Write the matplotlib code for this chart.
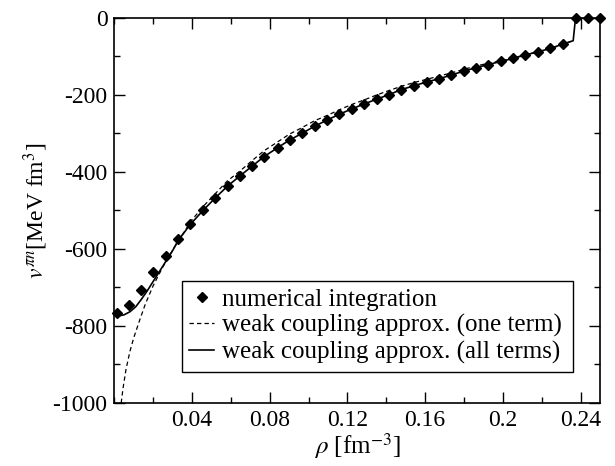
import matplotlib
matplotlib.use("Agg")
import matplotlib.pyplot as plt
from matplotlib.ticker import MultipleLocator, FixedLocator

plt.rcParams["font.family"] = ["Liberation Serif", "DejaVu Serif"]
plt.rcParams["mathtext.fontset"] = "stix"
plt.rcParams["axes.unicode_minus"] = False

# numerical integration (diamonds)
num_rho = [0.0012, 0.0075, 0.0139, 0.0201, 0.0264, 0.0328, 0.0391, 0.0458,
           0.0520, 0.0584, 0.0647, 0.0711, 0.0771, 0.0840, 0.0902, 0.0965,
           0.1031, 0.1096, 0.1158, 0.1223, 0.1287, 0.1350, 0.1414, 0.1477,
           0.1543, 0.1608, 0.1672, 0.1735, 0.1799, 0.1862, 0.1924, 0.1989,
           0.2053, 0.2116, 0.2180, 0.2245, 0.2307, 0.2378, 0.2438, 0.2500]
num_v = [-767, -745, -706, -660, -618, -575, -536, -499,
         -467, -436, -410, -384, -360, -337, -317, -300,
         -281, -265, -250, -236, -223, -211, -199, -186,
         -176, -166, -158, -148, -138, -129, -121, -113,
         -105, -96, -88, -79, -68, 0, 0, 0]

# weak coupling approx., one term (dashed)
one_rho = [0.0035, 0.0045, 0.006, 0.008, 0.010, 0.013, 0.016, 0.020, 0.025,
           0.030, 0.035, 0.040, 0.046, 0.052, 0.058, 0.065, 0.071, 0.077,
           0.084, 0.090, 0.0965, 0.103, 0.110, 0.116, 0.122, 0.129, 0.135,
           0.141, 0.148, 0.154, 0.161, 0.167, 0.174, 0.180, 0.186, 0.192,
           0.199, 0.205, 0.212, 0.218, 0.225, 0.231, 0.2362]
one_v = [-1000, -960, -912, -866, -830, -785, -742, -695, -646,
         -603, -563, -524, -488, -456, -424, -396, -370, -345,
         -322, -302, -285, -267, -252, -238, -225, -212, -200,
         -189, -177, -168, -159, -151, -142, -133, -125, -118,
         -111, -104, -95, -88, -79, -68, -59]

# weak coupling approx., all terms (solid)
all_rho = [0.0003, 0.0015, 0.003, 0.005, 0.008, 0.011, 0.014, 0.017, 0.020,
           0.0235, 0.027, 0.030, 0.0328, 0.0391, 0.0458,
           0.0520, 0.0584, 0.0647, 0.0711, 0.0771, 0.0840, 0.0902, 0.0965,
           0.1031, 0.1096, 0.1158, 0.1223, 0.1287, 0.1350, 0.1414, 0.1477,
           0.1543, 0.1608, 0.1672, 0.1735, 0.1799, 0.1862, 0.1924, 0.1989,
           0.2053, 0.2116, 0.2180, 0.2245, 0.2307, 0.2362, 0.2374, 0.2500]
all_v = [-767, -771, -773, -771, -763, -750, -730, -708, -684,
         -656, -628, -604, -578, -536, -499,
         -467, -436, -410, -384, -360, -337, -317, -300,
         -281, -265, -250, -236, -223, -211, -199, -186,
         -176, -166, -158, -148, -138, -129, -121, -113,
         -105, -96, -88, -79, -68, -59, 0, 0]

x_ticks = [0.04, 0.08, 0.12, 0.16, 0.20, 0.24]
x_labels = ["0.04", "0.08", "0.12", "0.16", "0.2", "0.24"]

fig = plt.figure(figsize=(6.15, 4.66), dpi=100)
ax = fig.add_axes([0.186, 0.1352, 0.7896, 0.8262])

ax.plot(all_rho, all_v, "-", color="black", lw=1.2,
        label="weak coupling approx. (all terms)", zorder=2)
ax.plot(one_rho, one_v, "--", color="black", lw=0.9, dashes=(3.5, 2.5),
        label="weak coupling approx. (one term)", zorder=2)
ax.plot(num_rho, num_v, "D", color="black", ms=5.5, ls="none",
        label="numerical integration", clip_on=False, zorder=3)

ax.set_xlim(0, 0.25)
ax.set_ylim(-1000, 0)
ax.xaxis.set_major_locator(FixedLocator(x_ticks))
ax.set_xticklabels(x_labels)
ax.xaxis.set_minor_locator(MultipleLocator(0.02))
ax.yaxis.set_major_locator(MultipleLocator(200))
ax.yaxis.set_minor_locator(MultipleLocator(100))
ax.tick_params(which="both", direction="in", top=True, right=True,
               labelsize=17, width=1)
ax.tick_params(which="major", length=8, pad=5)
ax.tick_params(which="minor", length=4.5)
for s in ax.spines.values():
    s.set_linewidth(1.2)

ax.set_xlabel(r"$\rho$ [fm$^{-3}$]", fontsize=18, labelpad=0)
ax.set_ylabel(r"$v^{\pi n}$[MeV fm$^{3}$]", fontsize=17, labelpad=2)

h, l = ax.get_legend_handles_labels()
order = [2, 1, 0]
leg = ax.legend([h[i] for i in order], [l[i] for i in order],
                loc="lower left", bbox_to_anchor=(0.1386, 0.081, 0.8064, 0.2385),
                mode="expand", fontsize=18, frameon=True, fancybox=False,
                edgecolor="black", framealpha=1, handlelength=1.0,
                handletextpad=0.3, borderpad=0.3, labelspacing=0.15,
                borderaxespad=0, numpoints=1)
leg.get_frame().set_linewidth(1.0)

fig.savefig("out.png", dpi=100)
